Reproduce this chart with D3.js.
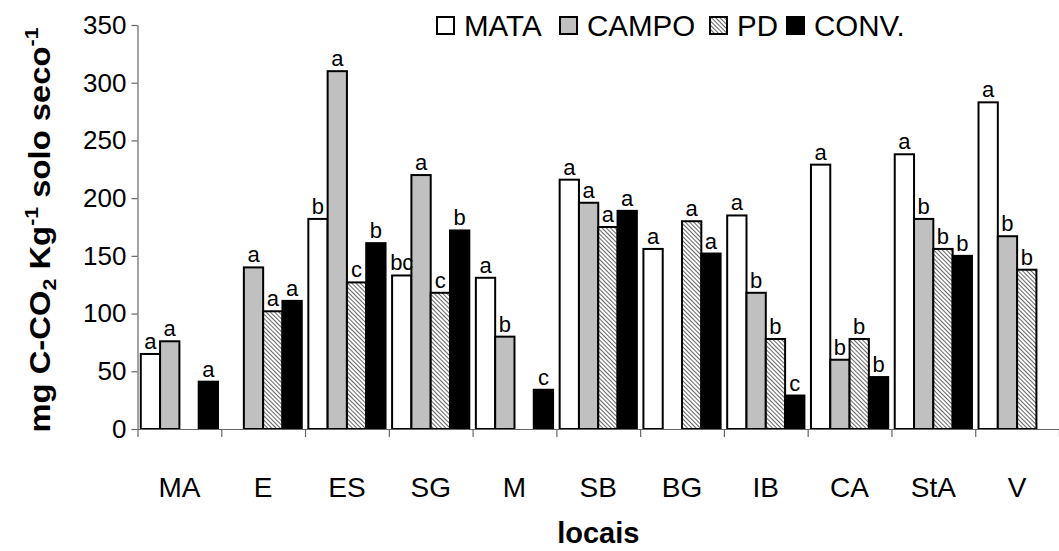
<!DOCTYPE html>
<html>
<head>
<meta charset="utf-8">
<script src="https://cdn.jsdelivr.net/npm/d3@7.9.0/dist/d3.min.js"></script>
<style>
  body { margin: 0; background: #fff; }
  svg { display: block; font-family: 'Liberation Sans', Arial, sans-serif; }
</style>
</head>
<body>
<svg id="chart" width="1059" height="551"></svg>
<script>
// --- data ---
const locais = ['MA', 'E', 'ES', 'SG', 'M', 'SB', 'BG', 'IB', 'CA', 'StA', 'V'];
const series = ['MATA', 'CAMPO', 'PD', 'CONV.'];

// null = no bar for that treatment
const mata  = [65, null, 182, 133, 131, 216, 156, 185, 229, 238, 283];
const campo = [76, 140, 310, 220, 80, 196, null, 118, 60, 182, 167];
const pd    = [null, 102, 127, 118, null, 175, 180, 78, 78, 156, 138];
const conv  = [41, 111, 161, 172, 34, 189, 152, 29, 45, 150, null];

// significance letters above each bar
const letrasMata  = ['a', '', 'b', 'bc', 'a', 'a', 'a', 'a', 'a', 'a', 'a'];
const letrasCampo = ['a', 'a', 'a', 'a', 'b', 'a', '', 'b', 'b', 'b', 'b'];
const letrasPd    = ['', 'a', 'c', 'c', '', 'a', 'a', 'b', 'b', 'b', 'b'];
const letrasConv  = ['a', 'a', 'b', 'b', 'c', 'a', 'a', 'c', 'b', 'b', ''];

const yTicks = [0, 50, 100, 150, 200, 250, 300, 350];

const valores = [mata, campo, pd, conv];
const letras = [letrasMata, letrasCampo, letrasPd, letrasConv];

const svg = d3.select('#chart');
const plotLeft = 137.5, plotRight = 1059, plotTop = 25, plotBottom = 429;
const fontFam = 'Liberation Sans, Arial, sans-serif';

// hatch pattern for PD
const defs = svg.append('defs');
const pat = defs.append('pattern')
  .attr('id', 'hatch')
  .attr('patternUnits', 'userSpaceOnUse')
  .attr('width', 3).attr('height', 3)
  .attr('patternTransform', 'rotate(-45)');
pat.append('rect').attr('width', 3).attr('height', 3).attr('fill', '#fff');
pat.append('line').attr('x1', 0).attr('y1', 0).attr('x2', 0).attr('y2', 3)
  .attr('stroke', '#333').attr('stroke-width', 1.5);

const fills = ['#ffffff', '#c0c0c0', 'url(#hatch)', '#000000'];

const x = d3.scaleBand().domain(locais).range([plotLeft, plotRight]);
const xSub = d3.scaleBand().domain(series).range([0, x.bandwidth()]).paddingInner(0).paddingOuter(0.17);
const y = d3.scaleLinear().domain([0, 350]).range([plotBottom, plotTop]);

// flatten rows
const rows = [];
locais.forEach((loc, i) => {
  series.forEach((s, j) => {
    rows.push({ loc, s, j, v: valores[j][i], letra: letras[j][i] });
  });
});

// y axis
const yAxis = svg.append('g')
  .attr('transform', `translate(${plotLeft},0)`)
  .call(d3.axisLeft(y).tickValues(yTicks).tickSize(6).tickSizeOuter(0).tickPadding(5));
yAxis.selectAll('line, path').attr('stroke', '#666').attr('stroke-width', 1.2);
yAxis.selectAll('text').attr('font-size', 26).attr('fill', '#000').attr('font-family', fontFam);

// bars
const barras = rows.filter(d => d.v != null);
svg.append('g').selectAll('rect')
  .data(barras)
  .join('rect')
  .attr('x', d => x(d.loc) + xSub(d.s))
  .attr('y', d => y(d.v))
  .attr('width', xSub.bandwidth())
  .attr('height', d => y(0) - y(d.v))
  .attr('fill', d => fills[d.j])
  .attr('stroke', '#000')
  .attr('stroke-width', 2);

// letters
svg.append('g').selectAll('text')
  .data(barras.filter(d => d.letra))
  .join('text')
  .attr('x', d => x(d.loc) + xSub(d.s) + xSub.bandwidth() / 2)
  .attr('y', d => y(d.v) - 5)
  .attr('text-anchor', 'middle')
  .attr('font-size', 22)
  .text(d => d.letra);

// x axis: boundary ticks + category labels
const xEdges = d3.scaleLinear().domain([0, locais.length]).range([plotLeft, plotRight]);
const xAxis = svg.append('g')
  .attr('transform', `translate(0,${plotBottom})`)
  .call(d3.axisBottom(xEdges).tickValues(d3.range(locais.length + 1)).tickFormat('').tickSize(8).tickSizeOuter(0));
xAxis.selectAll('line, path').attr('stroke', '#666').attr('stroke-width', 1.2);

const xLab = svg.append('g')
  .attr('transform', `translate(0,${plotBottom})`)
  .call(d3.axisBottom(x).tickSize(0));
xLab.select('.domain').remove();
xLab.selectAll('text')
  .attr('y', 68).attr('dy', 0)
  .attr('font-size', 28).attr('fill', '#000').attr('font-family', fontFam);

// axis titles
svg.append('text')
  .attr('x', (plotLeft + plotRight) / 2)
  .attr('y', 543)
  .attr('text-anchor', 'middle')
  .attr('font-size', 29)
  .attr('font-weight', 'bold')
  .text('locais');

const yt = svg.append('text')
  .attr('transform', 'translate(50,230) rotate(-90) scale(1.13,1)')
  .attr('text-anchor', 'middle')
  .attr('font-size', 29)
  .attr('font-weight', 'bold');
yt.append('tspan').text('mg C-CO');
yt.append('tspan').attr('font-size', 19).attr('dy', 6).text('2');
yt.append('tspan').attr('dy', -6).text(' Kg');
yt.append('tspan').attr('font-size', 19).attr('dy', -12).text('-1');
yt.append('tspan').attr('dy', 12).text(' solo seco');
yt.append('tspan').attr('font-size', 19).attr('dy', -12).text('-1');

// legend
const legX = [437, 560, 710, 787];
const leg = svg.append('g').selectAll('g')
  .data(series)
  .join('g')
  .attr('transform', (d, i) => `translate(${legX[i]},17)`);
leg.append('rect')
  .attr('width', 17).attr('height', 17)
  .attr('fill', (d, i) => fills[i])
  .attr('stroke', '#000').attr('stroke-width', 2);
leg.append('text')
  .attr('x', 27).attr('y', 18.5)
  .attr('font-size', 29.5)
  .text(d => d);
</script>
</body>
</html>
